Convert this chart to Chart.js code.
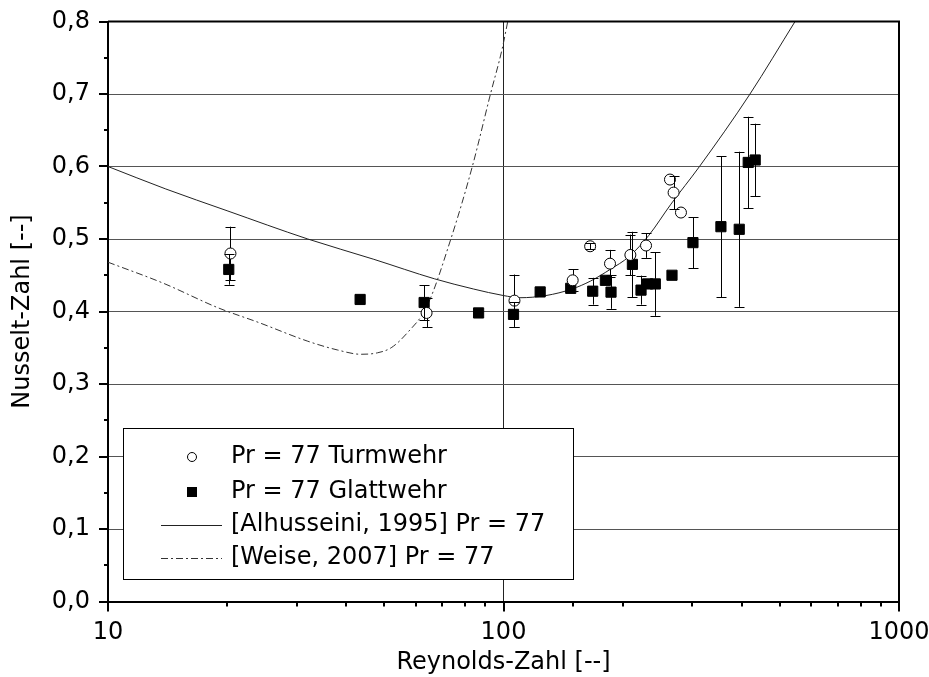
<!DOCTYPE html>
<html>
<head>
<meta charset="utf-8">
<script src="https://cdn.jsdelivr.net/npm/chart.js@4"></script>
<style>
  html, body { margin: 0; padding: 0; background: #fff; }
</style>
</head>
<body>
<canvas id="grafico" width="929" height="677"></canvas>
<script>
// Messwerte Turmwehr (Kreise)
const turmRe  = [20.4, 63.9, 106.6, 149.6, 165.6, 185.9, 209.3, 229.3, 263.6, 269.2, 281];
const turmNu  = [0.480, 0.398, 0.415, 0.443, 0.490, 0.466, 0.478, 0.491, 0.582, 0.564, 0.5365];
const turmErr = [0.037, 0.020, 0.036, 0.015, 0.004, 0.019, 0.028, 0.017, 0, 0.023, 0];

// Messwerte Glattwehr (Quadrate)
const glattRe  = [20.2, 43.4, 63.0, 86.5, 106.0, 123.8, 147.9, 168.1, 181, 187, 211.8, 222.7, 231.4, 242, 266.7, 301.3, 354.6, 394.5, 415.7, 432.9];
const glattNu  = [0.458, 0.4166, 0.4124, 0.398, 0.396, 0.427, 0.432, 0.428, 0.443, 0.4267, 0.465, 0.4295, 0.438, 0.438, 0.450, 0.495, 0.517, 0.5134, 0.6056, 0.609];
const glattErr = [0.021, 0, 0.024, 0, 0.017, 0, 0, 0.0185, 0, 0.023, 0.045, 0.02, 0, 0.044, 0, 0.035, 0.097, 0.107, 0.063, 0.05];

// Korrelation Alhusseini 1995
const alhRe = [10, 14, 20, 32, 47, 67, 84, 100, 110, 128, 149, 166, 186, 208, 233, 265, 313, 420, 546];
const alhNu = [0.600, 0.569, 0.539, 0.500, 0.472, 0.445, 0.431, 0.422, 0.419, 0.422, 0.431, 0.442, 0.458, 0.476, 0.505, 0.548, 0.600, 0.700, 0.800];

// Korrelation Weise 2007
const weiseRe = [10, 13.8, 19, 24, 32, 38, 43.6, 48, 52, 57, 64, 73.6, 83.4, 92.7, 99.3, 102.5];
const weiseNu = [0.468, 0.439, 0.405, 0.385, 0.359, 0.347, 0.341, 0.343, 0.350, 0.370, 0.407, 0.500, 0.600, 0.700, 0.763, 0.800];

const xTickLabels = [10, 100, 1000];
const yTickLabels = ['0,0', '0,1', '0,2', '0,3', '0,4', '0,5', '0,6', '0,7', '0,8'];

const punkte = (xs, ys, es) => xs.map((x, i) => ({ x: x, y: ys[i], e: es ? es[i] : 0 }));

Chart.defaults.font.family = "'DejaVu Sans', sans-serif";
Chart.defaults.font.size = 24;
Chart.defaults.color = '#000';

// Fehlerbalken, vom Symbolrand nach aussen
const fehlerbalken = {
  id: 'fehlerbalken',
  afterDatasetsDraw(chart) {
    const ctx = chart.ctx;
    const ys = chart.scales.y;
    ctx.save();
    ctx.strokeStyle = '#000';
    ctx.lineWidth = 1;
    chart.data.datasets.forEach((ds, i) => {
      if (ds.showLine) return;
      const meta = chart.getDatasetMeta(i);
      meta.data.forEach((el, j) => {
        const p = ds.data[j];
        if (!p.e) return;
        const x = Math.round(el.x) + 0.5;
        const top = ys.getPixelForValue(p.y + p.e);
        const bot = ys.getPixelForValue(p.y - p.e);
        const r = ds.pointRadius * (ds.pointStyle === 'rect' ? Math.SQRT1_2 : 1);
        ctx.beginPath();
        if (el.y - top > r) { ctx.moveTo(x, el.y - r); ctx.lineTo(x, top); }
        else { ctx.moveTo(x, top); ctx.lineTo(x, bot); }
        if (bot - el.y > r) { ctx.moveTo(x, el.y + r); ctx.lineTo(x, bot); }
        ctx.moveTo(x - 5, Math.round(top) + 0.5); ctx.lineTo(x + 5, Math.round(top) + 0.5);
        ctx.moveTo(x - 5, Math.round(bot) + 0.5); ctx.lineTo(x + 5, Math.round(bot) + 0.5);
        ctx.stroke();
      });
    });
    ctx.restore();
  }
};

// Rahmen, Teilstriche und Legende
const rahmen = {
  id: 'rahmen',
  afterDraw(chart) {
    const ctx = chart.ctx;
    const a = chart.chartArea;
    const xs = chart.scales.x, ys = chart.scales.y;
    ctx.save();
    ctx.strokeStyle = '#000';
    ctx.lineWidth = 2;
    ctx.beginPath();
    ctx.moveTo(a.left, a.top); ctx.lineTo(a.right, a.top); ctx.lineTo(a.right, a.bottom);
    ctx.stroke();

    ctx.lineWidth = 2;
    ctx.beginPath();
    xs.ticks.forEach(t => {
      const px = Math.round(xs.getPixelForValue(t.value));
      const len = xTickLabels.includes(t.value) ? 10 : 5;
      ctx.moveTo(px, a.bottom); ctx.lineTo(px, a.bottom + len);
    });
    for (let i = 0; i <= 16; i++) {
      const py = Math.round(ys.getPixelForValue(i * 0.05));
      const len = i % 2 === 0 ? 9 : 4;
      ctx.moveTo(a.left - len, py); ctx.lineTo(a.left, py);
    }
    ctx.stroke();

    // Legende
    const bx = 123, by = 428, bw = 450, bh = 151;
    ctx.fillStyle = '#fff';
    ctx.fillRect(bx, by, bw, bh);
    ctx.lineWidth = 1;
    ctx.strokeRect(bx + 0.5, by + 0.5, bw, bh);
    const zeilen = [457, 492, 525, 558];
    ctx.font = "24px 'DejaVu Sans', sans-serif";
    ctx.textBaseline = 'middle';
    chart.data.datasets.forEach((ds, i) => {
      const y = zeilen[i];
      ctx.strokeStyle = ds.borderColor;
      ctx.lineWidth = 1;
      if (ds.showLine) {
        ctx.setLineDash(ds.borderDash || []);
        ctx.beginPath();
        ctx.moveTo(161, y + 0.5); ctx.lineTo(222, y + 0.5);
        ctx.stroke();
        ctx.setLineDash([]);
      } else if (ds.pointStyle === 'rect') {
        ctx.fillStyle = ds.backgroundColor;
        ctx.fillRect(187, y - 5, 10, 10);
      } else {
        ctx.fillStyle = ds.backgroundColor;
        ctx.beginPath();
        ctx.arc(192, y, 4.5, 0, Math.PI * 2);
        ctx.fill(); ctx.stroke();
      }
      ctx.fillStyle = '#000';
      ctx.fillText(ds.label, 231, y);
    });
    ctx.restore();
  }
};

new Chart(document.getElementById('grafico'), {
  type: 'scatter',
  data: {
    datasets: [
      {
        label: 'Pr = 77 Turmwehr',
        data: punkte(turmRe, turmNu, turmErr),
        pointStyle: 'circle', pointRadius: 5.5,
        backgroundColor: '#fff', borderColor: '#000', borderWidth: 1
      },
      {
        label: 'Pr = 77 Glattwehr',
        data: punkte(glattRe, glattNu, glattErr),
        pointStyle: 'rect', pointRadius: 7.2,
        backgroundColor: '#000', borderColor: '#000', borderWidth: 1
      },
      {
        label: '[Alhusseini, 1995] Pr = 77',
        data: punkte(alhRe, alhNu),
        showLine: true, pointRadius: 0, borderColor: '#222', borderWidth: 1,
        cubicInterpolationMode: 'monotone'
      },
      {
        label: '[Weise, 2007] Pr = 77',
        data: punkte(weiseRe, weiseNu),
        showLine: true, pointRadius: 0, borderColor: '#333', borderWidth: 1,
        borderDash: [7, 3, 2, 3], cubicInterpolationMode: 'monotone'
      }
    ]
  },
  options: {
    responsive: false,
    animation: false,
    events: [],
    layout: { padding: { top: 21.5, right: 30, left: 0, bottom: 0 } },
    plugins: { legend: { display: false }, tooltip: { enabled: false } },
    scales: {
      x: {
        type: 'logarithmic',
        min: 10, max: 1000,
        grid: {
          drawTicks: false,
          color: c => (c.tick && c.tick.value === 100) ? '#222' : 'rgba(0,0,0,0)'
        },
        border: { display: true, color: '#000', width: 2 },
        ticks: {
          autoSkip: false, maxRotation: 0, padding: 17,
          callback: v => xTickLabels.includes(v) ? String(v) : ''
        },
        title: { display: true, text: 'Reynolds-Zahl [--]', padding: { top: 0, bottom: 0 } },
        afterFit: s => { s.height = 75.5; s.paddingLeft = 0; s.paddingRight = 0; }
      },
      y: {
        min: 0, max: 0.8,
        grid: {
          drawTicks: false,
          color: c => (c.tick && c.tick.value > 0.01 && c.tick.value < 0.79) ? '#555' : 'rgba(0,0,0,0)'
        },
        border: { display: true, color: '#000', width: 2 },
        ticks: {
          stepSize: 0.1, padding: 18,
          callback: v => yTickLabels[Math.round(v * 10)]
        },
        title: { display: true, text: 'Nusselt-Zahl [--]', padding: { top: 8, bottom: 0 } },
        afterFit: s => { s.width = 108; s.paddingTop = 0; s.paddingBottom = 0; }
      }
    }
  },
  plugins: [fehlerbalken, rahmen]
});
</script>
</body>
</html>
